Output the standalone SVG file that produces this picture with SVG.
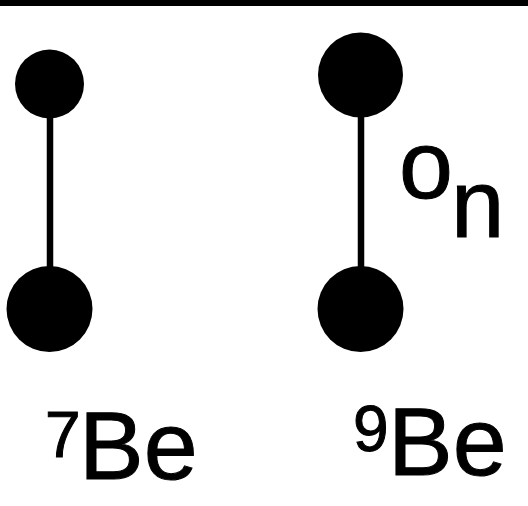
<svg xmlns="http://www.w3.org/2000/svg" width="528" height="506" viewBox="0 0 528 506">
  <style>
    .atom { fill: #000; }
    .bond { stroke: #000; stroke-width: 6.5; }
    .lbl { font-family: "Liberation Sans", Arial, sans-serif; fill: #000; stroke: #000; stroke-width: 1; }
  </style>
  <rect x="0" y="0" width="528" height="506" fill="#fff"/>
  <rect x="0" y="0" width="528" height="6" fill="#000"/>
  <g id="connectors">
    <line class="bond" x1="50" y1="110" x2="50" y2="275"/>
    <line class="bond" x1="361" y1="110" x2="361" y2="275"/>
  </g>
  <g id="be7-top"><circle class="atom" cx="49.5" cy="84" r="34.5"/></g>
  <g id="be7-bottom"><circle class="atom" cx="49.5" cy="309" r="43"/></g>
  <g id="be9-top"><circle class="atom" cx="360.5" cy="75" r="42.5"/></g>
  <g id="be9-bottom"><circle class="atom" cx="360.5" cy="309" r="43"/></g>
  <g id="neutron-label">
    <text class="lbl" x="399" y="198" font-size="97">o</text>
    <text class="lbl" x="451" y="237" font-size="96">n</text>
  </g>
  <g id="label-be7">
    <text class="lbl" x="45" y="457" font-size="64">7</text>
    <text class="lbl" x="79" y="479" font-size="97">Be</text>
  </g>
  <g id="label-be9">
    <text class="lbl" x="353" y="451" font-size="64">9</text>
    <text class="lbl" x="388" y="475" font-size="97">Be</text>
  </g>
</svg>
